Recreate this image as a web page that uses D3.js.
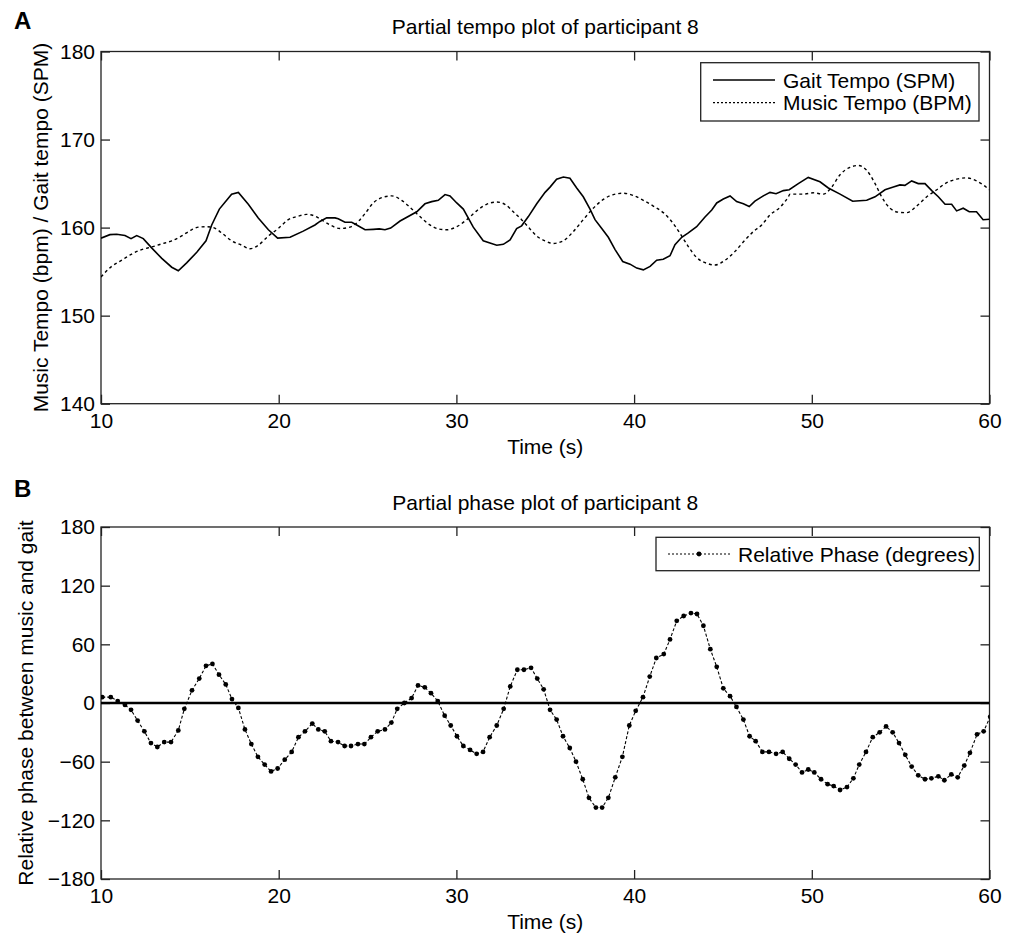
<!DOCTYPE html>
<meta charset="utf-8">
<style>
body { margin: 0; background: #fff; }
svg { display: block; }
text { font-family: "Liberation Sans", Arial, Helvetica, sans-serif; fill: #000; }
.tick text { font-size: 21px; }
.frame { fill: none; stroke: #222; stroke-width: 1.3; }
.tick line { stroke: #222; stroke-width: 1.3; }
</style>
<body>
<script src="https://cdn.jsdelivr.net/npm/d3@7"></script>
<script>
// ---- data ----
var timeTicks = [10, 20, 30, 40, 50, 60];
var tempoTicks = [140, 150, 160, 170, 180];
var phaseTicks = [-180, -120, -60, 0, 60, 120, 180];

var gaitTime = [10.0,10.5,10.88,11.35,11.69,12.01,12.38,12.85,13.42,13.98,
  14.35,14.82,15.39,15.91,16.23,16.66,17.07,17.35,17.73,18.29,
  18.85,19.42,19.94,20.64,21.38,22.04,22.32,22.7,23.17,23.35,
  23.73,24.11,24.39,24.86,25.32,25.66,25.98,26.3,26.83,27.77,
  28.23,28.61,28.98,29.36,29.64,30.02,30.39,30.95,31.51,32.27,
  32.64,33.02,33.39,33.67,34.05,34.52,34.99,35.27,35.64,36.02,
  36.39,36.77,37.14,37.52,37.8,38.18,38.55,38.93,39.36,39.77,
  40.15,40.52,40.9,41.27,41.64,42.02,42.3,42.68,43.05,43.52,
  43.99,44.37,44.65,45.02,45.4,45.77,46.15,46.48,46.8,47.27,
  47.65,47.99,48.4,48.73,49.24,49.8,50.46,50.93,51.59,52.3,
  53.09,53.56,54.12,54.59,54.96,55.24,55.62,55.99,56.37,56.75,
  57.12,57.5,57.87,58.15,58.52,58.86,59.27,59.64,60.0];
var gaitSpm = [158.8,159.2,159.25,159.1,158.75,159.1,158.75,157.7,156.5,155.5,
  155.1,156.0,157.2,158.5,160.3,162.1,163.1,163.8,164.0,162.65,
  161.1,159.75,158.8,158.9,159.6,160.3,160.7,161.1,161.1,161.0,
  160.6,160.6,160.3,159.75,159.8,159.85,159.75,159.95,160.75,161.8,
  162.7,162.95,163.1,163.75,163.6,162.8,162.1,160.05,158.5,158.0,
  158.1,158.6,159.9,160.2,161.25,162.7,164.0,164.6,165.5,165.75,
  165.6,164.5,163.5,162.1,160.9,159.9,158.9,157.5,156.15,155.85,
  155.4,155.2,155.6,156.3,156.4,156.8,158.05,158.9,159.4,160.1,
  161.2,162.0,162.8,163.25,163.6,162.95,162.7,162.4,163.0,163.6,
  164.0,163.85,164.2,164.3,165.0,165.7,165.2,164.5,163.8,163.0,
  163.1,163.5,164.3,164.6,164.85,164.8,165.3,165.0,165.0,164.2,
  163.5,162.65,162.65,161.9,162.2,161.8,161.8,160.9,160.95];

var musicTime = [10.0,10.6,11.17,11.73,12.29,12.85,13.42,13.98,14.54,15.1,
  15.48,15.95,16.32,16.79,17.35,17.92,18.38,18.85,19.42,19.98,
  20.54,21.11,21.58,22.04,22.32,22.89,23.45,24.01,24.48,24.86,
  25.32,25.8,26.36,26.92,27.39,27.95,28.51,28.98,29.45,30.02,
  30.58,31.14,31.7,32.27,32.73,33.2,33.67,34.14,34.61,34.99,
  35.45,36.02,36.58,37.14,37.7,38.27,38.83,39.39,39.96,40.52,
  41.08,41.64,42.11,42.58,43.05,43.52,44.09,44.55,45.12,45.68,
  46.25,46.71,47.18,47.65,48.21,48.68,48.77,49.52,50.08,50.65,
  51.12,51.59,52.15,52.62,53.09,53.56,53.93,54.4,54.87,55.34,
  55.9,56.47,57.03,57.59,58.15,58.72,59.27,60.0];
var musicBpm = [154.4,155.6,156.3,157.0,157.5,157.8,158.15,158.5,159.05,159.75,
  160.05,160.1,160.0,159.4,158.5,158.0,157.6,158.0,159.05,159.9,
  160.9,161.3,161.5,161.3,161.0,160.3,159.9,160.05,160.7,161.6,
  162.8,163.4,163.6,163.1,162.3,161.25,160.3,159.85,159.75,160.1,
  160.9,161.9,162.65,162.9,162.65,161.8,160.9,159.85,158.9,158.5,
  158.2,158.5,159.55,160.9,162.2,163.2,163.75,163.9,163.65,163.1,
  162.45,161.7,160.7,159.35,157.85,156.6,155.95,155.75,156.3,157.3,
  158.6,159.55,160.3,161.45,162.3,163.5,163.8,163.8,163.95,163.8,
  164.6,166.0,166.85,167.05,166.5,165.0,163.5,162.2,161.75,161.7,
  162.45,163.5,164.3,165.1,165.5,165.65,165.3,164.3];

var phaseTime = [10.07,10.55,10.94,11.35,11.69,12.06,12.44,12.81,13.17,13.56,
  13.94,14.35,14.69,15.12,15.53,15.91,16.27,16.64,17.02,17.37,
  17.73,18.1,18.46,18.83,19.21,19.57,19.94,20.34,20.73,21.11,
  21.48,21.89,22.23,22.59,22.94,23.34,23.71,24.07,24.46,24.82,
  25.19,25.57,25.98,26.34,26.67,27.07,27.48,27.84,28.22,28.57,
  28.95,29.34,29.68,30.03,30.39,30.77,31.14,31.5,31.87,32.27,
  32.66,33.03,33.43,33.8,34.2,34.55,34.91,35.27,35.64,36.0,
  36.38,36.73,37.11,37.46,37.85,38.2,38.55,38.94,39.34,39.73,
  40.09,40.5,40.88,41.25,41.67,42.02,42.4,42.79,43.2,43.54,
  43.9,44.29,44.65,45.02,45.4,45.76,46.15,46.5,46.84,47.22,
  47.59,47.99,48.36,48.73,49.09,49.45,49.8,50.14,50.52,50.89,
  51.23,51.59,51.98,52.34,52.67,53.05,53.43,53.82,54.18,54.55,
  54.91,55.26,55.62,55.99,56.37,56.73,57.12,57.46,57.85,58.21,
  58.58,58.9,59.3,59.67,60.04];
var phaseDeg = [6,6,2,-2,-7,-18,-29,-41,-45,-40,
  -40,-28,-6,13,25,38,40,29,19,4,
  -5,-27,-42,-55,-63,-70,-67,-58,-50,-35,
  -29,-21,-27,-29,-39,-40,-44,-44,-42,-42,
  -35,-29,-27,-20,-6,0,5,18,16,10,
  2,-13,-23,-34,-44,-48,-52,-50,-35,-23,
  -6,17,34,34,36,25,14,-7,-17,-34,
  -46,-60,-78,-97,-107,-107,-97,-76,-55,-23,
  -8,6,27,46,50,65,84,89,92,91,
  79,55,37,15,7,-4,-17,-34,-39,-50,
  -50,-52,-50,-57,-63,-71,-68,-71,-78,-83,
  -85,-89,-86,-77,-63,-50,-35,-30,-24,-30,
  -41,-53,-65,-74,-78,-77,-75,-79,-73,-76,
  -64,-51,-32,-29,-14];

// ---- layout ----
var W = 1017, H = 935;
var left = 101, right = 989.5;
var fs = 21;
var svg = d3.select("body").append("svg").attr("width", W).attr("height", H);

var x = d3.scaleLinear().domain([10, 60]).range([left, right]);
var yA = d3.scaleLinear().domain([140, 180]).range([403.7, 51.5]);
var yB = d3.scaleLinear().domain([-180, 180]).range([879, 527]);

function frame(y, yTicks, clipId) {
  var top = y.range()[1], bottom = y.range()[0];
  svg.append("clipPath").attr("id", clipId)
    .append("rect").attr("x", left).attr("y", top)
    .attr("width", right - left).attr("height", bottom - top);

  svg.append("g").attr("transform", "translate(0," + bottom + ")")
    .call(d3.axisBottom(x).tickValues(timeTicks).tickSizeInner(-9).tickSizeOuter(0).tickPadding(9).tickFormat(d3.format("d")))
    .call(function(g) { g.select(".domain").remove(); });
  svg.append("g").attr("transform", "translate(0," + top + ")")
    .call(d3.axisTop(x).tickValues(timeTicks).tickSizeInner(-9).tickSizeOuter(0).tickFormat(""))
    .call(function(g) { g.select(".domain").remove(); });
  svg.append("g").attr("transform", "translate(" + left + ",0)")
    .call(d3.axisLeft(y).tickValues(yTicks).tickSizeInner(-9).tickSizeOuter(0).tickPadding(6).tickFormat(d3.format("d")))
    .call(function(g) { g.select(".domain").remove(); });
  svg.append("g").attr("transform", "translate(" + right + ",0)")
    .call(d3.axisRight(y).tickValues(yTicks).tickSizeInner(-9).tickSizeOuter(0).tickFormat(""))
    .call(function(g) { g.select(".domain").remove(); });

  svg.selectAll(".tick text").attr("fill", "#000").style("font-family", null);

  svg.append("rect").attr("class", "frame")
    .attr("x", left).attr("y", top).attr("width", right - left).attr("height", bottom - top);
}

// ---- panel A ----
frame(yA, tempoTicks, "clipA");

var gA = svg.append("g").attr("clip-path", "url(#clipA)");
gA.append("path")
  .datum(d3.zip(musicTime, musicBpm))
  .attr("fill", "none").attr("stroke", "#000").attr("stroke-width", 1.4)
  .attr("stroke-dasharray", "3,3")
  .attr("d", d3.line().curve(d3.curveMonotoneX).x(function(d) { return x(d[0]); }).y(function(d) { return yA(d[1]); }));
gA.append("path")
  .datum(d3.zip(gaitTime, gaitSpm))
  .attr("fill", "none").attr("stroke", "#000").attr("stroke-width", 1.6)
  .attr("d", d3.line().x(function(d) { return x(d[0]); }).y(function(d) { return yA(d[1]); }));

svg.append("text").attr("x", 14).attr("y", 29).attr("font-size", 24).attr("font-weight", "bold").text("A");
svg.append("text").attr("x", (left + right) / 2).attr("y", 34).attr("text-anchor", "middle").attr("font-size", fs)
  .text("Partial tempo plot of participant 8");
svg.append("text").attr("x", (left + right) / 2).attr("y", 454).attr("text-anchor", "middle").attr("font-size", fs)
  .text("Time (s)");
svg.append("text").attr("transform", "translate(48," + yA(160) + ") rotate(-90)")
  .attr("text-anchor", "middle").attr("font-size", fs)
  .text("Music Tempo (bpm) / Gait tempo (SPM)");

// legend A
var legA = svg.append("g");
legA.append("rect").attr("x", 700.7).attr("y", 62.7).attr("width", 278.3).attr("height", 58.3)
  .attr("fill", "#fff").attr("stroke", "#222").attr("stroke-width", 1.3);
legA.append("line").attr("x1", 713).attr("x2", 775).attr("y1", 80).attr("y2", 80)
  .attr("stroke", "#000").attr("stroke-width", 1.3);
legA.append("line").attr("x1", 713).attr("x2", 775).attr("y1", 102.7).attr("y2", 102.7)
  .attr("stroke", "#000").attr("stroke-width", 1.2).attr("stroke-dasharray", "2,2");
legA.append("text").attr("x", 783).attr("y", 87.5).attr("font-size", fs).text("Gait Tempo (SPM)");
legA.append("text").attr("x", 783).attr("y", 110).attr("font-size", fs).text("Music Tempo (BPM)");

// ---- panel B ----
frame(yB, phaseTicks, "clipB");

var gB = svg.append("g").attr("clip-path", "url(#clipB)");
gB.append("line").attr("x1", left).attr("x2", right).attr("y1", yB(0)).attr("y2", yB(0))
  .attr("stroke", "#000").attr("stroke-width", 2.6);
var phase = d3.zip(phaseTime, phaseDeg);
gB.append("path")
  .datum(phase)
  .attr("fill", "none").attr("stroke", "#000").attr("stroke-width", 1.1)
  .attr("stroke-dasharray", "3,2")
  .attr("d", d3.line().x(function(d) { return x(d[0]); }).y(function(d) { return yB(d[1]); }));
gB.selectAll("circle").data(phase).enter().append("circle")
  .attr("cx", function(d) { return x(d[0]); })
  .attr("cy", function(d) { return yB(d[1]); })
  .attr("r", 2.4).attr("fill", "#000");

svg.append("text").attr("x", 14).attr("y", 497).attr("font-size", 24).attr("font-weight", "bold").text("B");
svg.append("text").attr("x", (left + right) / 2).attr("y", 510).attr("text-anchor", "middle").attr("font-size", fs)
  .text("Partial phase plot of participant 8");
svg.append("text").attr("x", (left + right) / 2).attr("y", 929).attr("text-anchor", "middle").attr("font-size", fs)
  .text("Time (s)");
svg.append("text").attr("transform", "translate(33," + yB(0) + ") rotate(-90)")
  .attr("text-anchor", "middle").attr("font-size", fs)
  .text("Relative phase between music and gait");

// legend B
var legB = svg.append("g");
legB.append("rect").attr("x", 656).attr("y", 537.3).attr("width", 323.3).attr("height", 33.4)
  .attr("fill", "#fff").attr("stroke", "#222").attr("stroke-width", 1.3);
legB.append("line").attr("x1", 668).attr("x2", 730).attr("y1", 554).attr("y2", 554)
  .attr("stroke", "#000").attr("stroke-width", 1.1).attr("stroke-dasharray", "2,2");
legB.append("circle").attr("cx", 699).attr("cy", 554).attr("r", 2.4).attr("fill", "#000");
legB.append("text").attr("x", 738).attr("y", 561.5).attr("font-size", fs).text("Relative Phase (degrees)");
</script>
</body>
